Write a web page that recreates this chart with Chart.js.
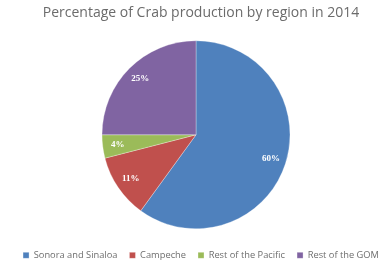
<!DOCTYPE html>
<html>
<head>
<meta charset="utf-8">
<script src="https://cdn.jsdelivr.net/npm/chart.js@4"></script>
<style>
  html, body { margin: 0; padding: 0; background: #fff; }
  #wrap { width: 382px; height: 265px; }
</style>
</head>
<body>
<div id="wrap"><canvas id="myChart" width="382" height="265"></canvas></div>
<script>
// donnees du graphe
const regions = ["Sonora and Sinaloa", "Campeche", "Rest of the Pacific", "Rest of the GOM"];
const shares = [60, 11, 4, 25];
const colors = ["#4F81BD", "#C0504D", "#9BBB59", "#8064A2"];

// labels en % dans les parts
const pctLabels = {
  id: "pctLabels",
  afterDatasetsDraw(chart) {
    const ctx = chart.ctx;
    const meta = chart.getDatasetMeta(0);
    ctx.save();
    ctx.fillStyle = "#ffffff";
    ctx.font = "bold 9px 'Liberation Serif'";
    ctx.textAlign = "center";
    ctx.textBaseline = "middle";
    meta.data.forEach((arc, i) => {
      const mid = (arc.startAngle + arc.endAngle) / 2;
      const r = arc.outerRadius * 0.84;
      ctx.fillText(shares[i] + "%", arc.x + Math.cos(mid) * r, arc.y + Math.sin(mid) * r);
    });
    ctx.restore();
  }
};

const config = {
  type: "pie",
  data: {
    labels: regions,
    datasets: [
      {
        data: shares,
        backgroundColor: colors,
        borderColor: "rgba(255,255,255,0.6)",
        borderWidth: 0.5,
        radius: 94,
      },
    ],
  },
  options: {
    responsive: false,
    animation: false,
    layout: { padding: { left: 10, right: -10, top: 0, bottom: -5 } },
    plugins: {
      title: {
        display: true,
        text: "Percentage of Crab production by region in 2014",
        color: "#6b6b6b",
        font: { family: "Open Sans", size: 14, weight: "normal" },
        padding: { top: 5, bottom: 9 },
      },
      legend: {
        position: "bottom",
        labels: {
          boxWidth: 6,
          boxHeight: 6,
          padding: 12,
          color: "#6e6e6e",
          font: { family: "Open Sans", size: 9.3 },
        },
      },
      tooltip: { enabled: false },
    },
  },
  plugins: [pctLabels],
};

const context = document.getElementById("myChart").getContext("2d");
const chart = new Chart(context, config);
</script>
</body>
</html>
